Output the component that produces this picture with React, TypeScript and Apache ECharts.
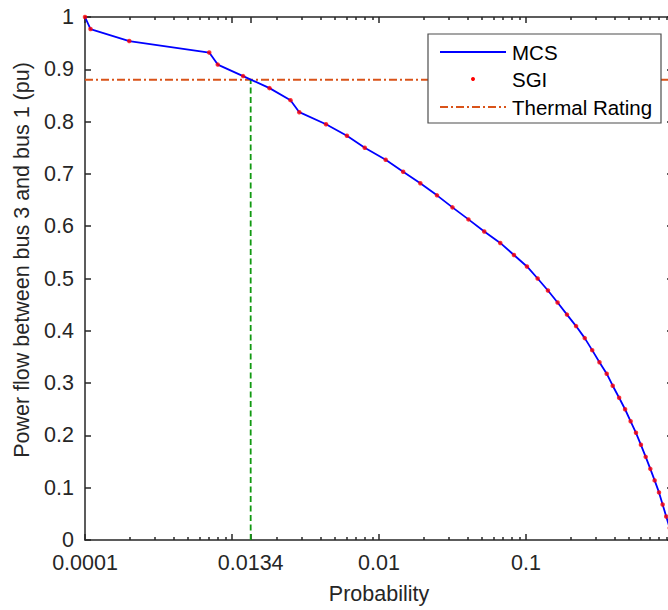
import React, { useEffect, useRef } from 'react';
import * as echarts from 'echarts';

// Probability (x, log scale) and power flow (y, pu)
const probability = [
  0.0001, 0.000109, 0.0002, 0.0007, 0.0008, 0.00119, 0.0018, 0.0025, 0.00287, 0.00436,
  0.00605, 0.008, 0.0111, 0.0146, 0.0191, 0.0248, 0.0316, 0.0406, 0.052, 0.0668,
  0.0828, 0.1015, 0.12, 0.141, 0.164, 0.19, 0.219, 0.251, 0.282, 0.316,
  0.354, 0.389, 0.43, 0.472, 0.515, 0.56, 0.605, 0.652, 0.701, 0.75,
  0.803, 0.85, 0.899, 0.95,
];
const powerFlow = [
  1.0, 0.977, 0.954, 0.932, 0.909, 0.887, 0.864, 0.841, 0.818, 0.795,
  0.773, 0.75, 0.727, 0.704, 0.682, 0.659, 0.636, 0.613, 0.59, 0.568,
  0.545, 0.523, 0.5, 0.477, 0.454, 0.431, 0.409, 0.386, 0.363, 0.34,
  0.318, 0.295, 0.272, 0.25, 0.227, 0.205, 0.182, 0.159, 0.136, 0.114,
  0.091, 0.068, 0.045, 0.023,
];
const thermalRating = 0.88;
const crossingProbability = 0.00134;

const xRange = [0.0001, 1];
const xMajorTicks = [0.0001, 0.001, 0.00134, 0.01, 0.1, 1];
const xTickLabelValues = [0.0001, 0.00134, 0.01, 0.1];
const xTickLabelTexts = ['0.0001', '0.0134', '0.01', '0.1'];
const xDecades = [0.0001, 0.001, 0.01, 0.1];
const xMinorMultipliers = [2, 3, 4, 5, 6, 7, 8, 9];
const yRange = [0, 1];
const yInterval = 0.1;

const legendNames = ['MCS', 'SGI', 'Thermal Rating'];
const yAxisTitle = 'Power flow between bus 3 and bus 1 (pu)';
const xAxisTitle = 'Probability';

export default function App() {
  const ref = useRef<HTMLDivElement>(null);

  useEffect(() => {
    if (!ref.current) return;
    const chart = echarts.init(ref.current, null, { renderer: 'svg' });
    const lg = (v: number) => Math.log10(v);
    const font = "'Liberation Sans', Arial, Helvetica, sans-serif";
    const axisColor = '#262626';
    const tickFont = 21.5;

    const majorVals = xMajorTicks.map(lg);
    const minorVals: number[] = [];
    xDecades.forEach((d) => xMinorMultipliers.forEach((m) => minorVals.push(lg(d * m))));
    const labelVals = xTickLabelValues.map(lg);
    const xFormatter = (v: number) => {
      let best = 0;
      let bd = Infinity;
      labelVals.forEach((lv, i) => {
        const dd = Math.abs(lv - v);
        if (dd < bd) { bd = dd; best = i; }
      });
      return xTickLabelTexts[best];
    };

    const lineStyle = { color: axisColor, width: 1.5 };
    const baseX = {
      type: 'value',
      min: lg(xRange[0]),
      max: lg(xRange[1]),
      splitLine: { show: false },
    };
    const majorAxis = (position: string, withLabels: boolean) => ({
      ...baseX,
      position,
      axisLine: { show: true, onZero: false, lineStyle },
      axisTick: { show: true, inside: true, length: 6, customValues: majorVals, lineStyle },
      axisLabel: withLabels
        ? {
            show: true,
            customValues: labelVals,
            formatter: xFormatter,
            margin: 12,
            fontSize: tickFont,
            fontFamily: font,
            color: axisColor,
          }
        : { show: false },
      ...(withLabels
        ? {
            name: xAxisTitle,
            nameLocation: 'middle',
            nameGap: 43,
            nameTextStyle: { fontSize: tickFont, fontFamily: font, color: axisColor },
          }
        : {}),
    });
    const minorAxis = (position: string) => ({
      ...baseX,
      position,
      axisLine: { show: false, onZero: false },
      axisTick: { show: true, inside: true, length: 3, customValues: minorVals, lineStyle },
      axisLabel: { show: false },
    });

    const baseY = {
      type: 'value',
      min: yRange[0],
      max: yRange[1],
      interval: yInterval,
      splitLine: { show: false },
      axisLine: { show: true, onZero: false, lineStyle },
      axisTick: { show: true, inside: true, length: 6, lineStyle },
    };

    const pts = probability.map((p, i) => [lg(p), powerFlow[i]]);
    const xc = lg(crossingProbability);

    const legendX = 428;
    const legendY = 34;
    const rowY = [52, 79, 107];
    const legendFont = 20.5;

    chart.setOption({
      animation: false,
      grid: { left: 85, top: 17, width: 588, height: 524, containLabel: false },
      xAxis: [majorAxis('bottom', true), minorAxis('bottom'), majorAxis('top', false), minorAxis('top')],
      yAxis: [
        {
          ...baseY,
          position: 'left',
          axisLabel: {
            show: true,
            margin: 11,
            fontSize: tickFont,
            fontFamily: font,
            color: axisColor,
            formatter: (v: number) => String(Number(v.toFixed(1))),
          },
        },
        { ...baseY, position: 'right', axisLabel: { show: false } },
      ],
      series: [
        {
          name: legendNames[2],
          type: 'line',
          data: [[lg(xRange[0]), thermalRating], [lg(xRange[1]), thermalRating]],
          symbol: 'none',
          lineStyle: { color: '#D95319', width: 2, type: [8, 3, 2, 3] },
          z: 2,
        },
        {
          name: 'crossing',
          type: 'line',
          data: [[xc, 0], [xc, thermalRating]],
          symbol: 'none',
          lineStyle: { color: '#119911', width: 1.8, type: [6, 3.5] },
          z: 2,
        },
        {
          name: legendNames[0],
          type: 'line',
          data: pts,
          symbol: 'none',
          lineStyle: { color: '#0000ff', width: 1.8 },
          z: 3,
        },
        {
          name: legendNames[1],
          type: 'scatter',
          data: pts,
          symbolSize: 4.5,
          itemStyle: { color: '#ff0000' },
          z: 4,
        },
      ],
      graphic: [
        {
          type: 'text',
          x: 22,
          y: 260,
          rotation: Math.PI / 2,
          z: 100,
          style: {
            text: yAxisTitle,
            align: 'center',
            verticalAlign: 'middle',
            fontSize: tickFont,
            fontFamily: font,
            fill: axisColor,
          },
        },
        {
          type: 'rect',
          z: 100,
          shape: { x: legendX, y: legendY, width: 233, height: 89 },
          style: { fill: '#ffffff', stroke: '#4d4d4d', lineWidth: 1.2 },
        },
        {
          type: 'line',
          z: 101,
          shape: { x1: 440, y1: rowY[0], x2: 506, y2: rowY[0] },
          style: { stroke: '#0000ff', lineWidth: 1.8 },
        },
        {
          type: 'circle',
          z: 101,
          shape: { cx: 473, cy: rowY[1], r: 2 },
          style: { fill: '#ff0000' },
        },
        {
          type: 'line',
          z: 101,
          shape: { x1: 440, y1: rowY[2], x2: 506, y2: rowY[2] },
          style: { stroke: '#D95319', lineWidth: 2, lineDash: [8, 3, 2, 3] },
        },
        ...legendNames.map((n, i) => ({
          type: 'text',
          z: 101,
          x: 512,
          y: rowY[i],
          style: {
            text: n,
            align: 'left',
            verticalAlign: 'middle',
            fontSize: legendFont,
            fontFamily: font,
            fill: '#000000',
          },
        })),
      ],
    });

    return () => chart.dispose();
  }, []);

  return (
    <div style={{ position: 'fixed', left: 0, top: 0, width: 668, height: 610, overflow: 'hidden', background: '#fff' }}>
      <div ref={ref} style={{ width: 700, height: 610 }} />
    </div>
  );
}
